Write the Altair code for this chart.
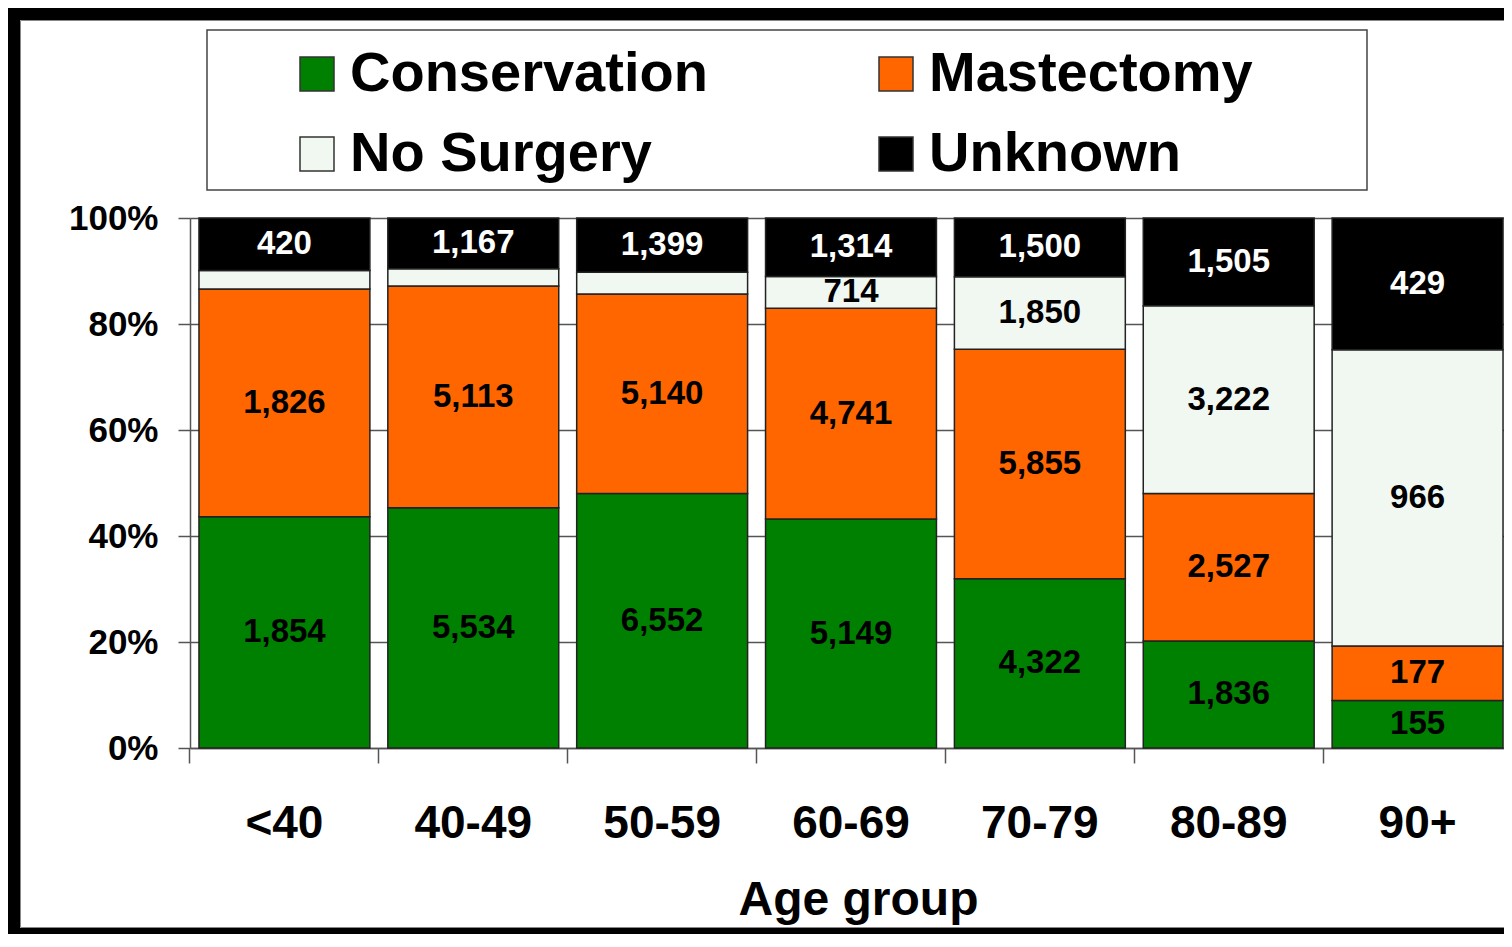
import altair as alt
import pandas as pd

ages = ["<40", "40-49", "50-59", "60-69", "70-79", "80-89", "90+"]
surgery_types = ["Conservation", "Mastectomy", "No Surgery", "Unknown"]
conservation = [1854, 5534, 6552, 5149, 4322, 1836, 155]
mastectomy = [1826, 5113, 5140, 4741, 5855, 2527, 177]
no_surgery = [150, 400, 560, 714, 1850, 3222, 966]
unknown = [420, 1167, 1399, 1314, 1500, 1505, 429]
colors = ["#008000", "#ff6600", "#f1f8f1", "#000000"]
y_ticks = [0, 0.2, 0.4, 0.6, 0.8, 1.0]

FONT = "Liberation Sans"

rows = []
for k, (series, vals) in enumerate(zip(surgery_types, [conservation, mastectomy, no_surgery, unknown])):
    for a, v in zip(ages, vals):
        rows.append({"age": a, "surgery": series, "count": v, "order": k})
df = pd.DataFrame(rows)

base = alt.Chart(df).transform_stack(
    stack="count",
    groupby=["age"],
    as_=["y0", "y1"],
    offset="normalize",
    sort=[alt.SortField("order", order="ascending")],
)

x_axis = alt.Axis(
    title="Age group",
    titleFont=FONT,
    titleFontSize=48,
    titleFontWeight="bold",
    titleColor="black",
    titlePadding=30,
    titleX=668,
    titleAlign="center",
    labelFont=FONT,
    labelFontSize=46,
    labelFontWeight="bold",
    labelColor="black",
    labelAngle=0,
    labelPadding=38,
    tickSize=15,
    tickColor="#555",
    tickWidth=1.5,
    domainColor="#555",
    domainWidth=1.5,
    bandPosition=-0.053,
    grid=False,
)
x_scale = alt.Scale(range=[0, 1322], paddingInner=0.095, paddingOuter=0.0475)

y_axis = alt.Axis(
    values=y_ticks,
    format="%",
    title=None,
    labelFont=FONT,
    labelFontSize=35,
    labelFontWeight="bold",
    labelColor="black",
    labelPadding=20,
    tickSize=12,
    tickColor="#555",
    tickWidth=1.5,
    domainColor="#555",
    domainWidth=1.5,
    grid=True,
    gridColor="#555",
    gridWidth=1.5,
)
y_scale = alt.Scale(domain=[0, 1])

bars = base.mark_bar(stroke="#222", strokeWidth=1.5).encode(
    x=alt.X("age:N", sort=ages, scale=x_scale, axis=x_axis),
    y=alt.Y("y0:Q", scale=y_scale, axis=y_axis),
    y2="y1:Q",
    color=alt.Color(
        "surgery:N",
        scale=alt.Scale(domain=surgery_types, range=colors),
        legend=alt.Legend(
            orient="none",
            legendX=99,
            legendY=-172,
            columns=2,
            direction="horizontal",
            title=None,
            symbolType="square",
            symbolSize=1156,
            symbolStrokeColor="#333",
            symbolStrokeWidth=1.5,
            labelFont=FONT,
            labelFontSize=56,
            labelFontWeight="bold",
            labelColor="black",
            labelOffset=5,
            labelLimit=800,
            columnPadding=160,
            rowPadding=24,
            padding=0,
        ),
    ),
)

labels = base.transform_calculate(
    mid="(datum.y0 + datum.y1) / 2", frac="datum.y1 - datum.y0"
).transform_filter("datum.frac > 0.05").mark_text(
    font=FONT, fontSize=33, fontWeight="bold"
).encode(
    x=alt.X("age:N", sort=ages, scale=x_scale, axis=x_axis),
    y=alt.Y("mid:Q", scale=y_scale, axis=y_axis),
    text=alt.Text("count:Q", format=","),
    color=alt.condition("datum.surgery == 'Unknown'", alt.value("white"), alt.value("black")),
)

one = pd.DataFrame({"k": [0]})
frame = alt.Chart(one).mark_rect(fillOpacity=0, stroke="black", strokeWidth=12).encode(
    x=alt.value(-176), x2=alt.value(1340), y=alt.value(-204), y2=alt.value(716)
)
frame_inner = alt.Chart(one).mark_rect(fillOpacity=0, stroke="#888", strokeWidth=1).encode(
    x=alt.value(-169.5), x2=alt.value(1340), y=alt.value(-197.5), y2=alt.value(709.5)
)
legend_box = alt.Chart(one).mark_rect(fillOpacity=0, stroke="#444", strokeWidth=1.5).encode(
    x=alt.value(17), x2=alt.value(1177), y=alt.value(-188), y2=alt.value(-28)
)

chart = alt.layer(frame, frame_inner, legend_box, bars, labels).properties(
    width=1314,
    height=530,
    autosize=alt.AutoSizeParams(type="none"),
    padding={"left": 182, "top": 210, "right": 0, "bottom": 186},
    background="white",
).configure_view(stroke=None)

chart.save("out.html", embed_options={"renderer": "svg", "actions": False})
